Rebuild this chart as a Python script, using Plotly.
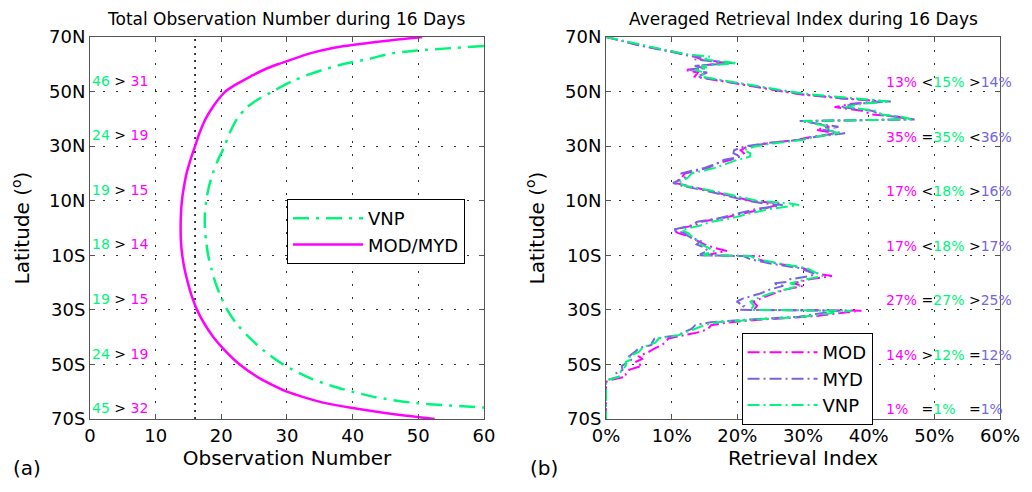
import plotly.graph_objects as go
from plotly.subplots import make_subplots

# ---- panel (a): total observation number vs latitude ----
MOD_LAT = [70, 68, 66, 64, 62, 60, 58, 56, 54, 52, 50, 47, 44, 40, 35, 30, 25, 20, 15, 10, 5, 0,
           -5, -10, -15, -20, -25, -30, -35, -40, -45, -50, -55, -58, -60, -62, -64, -66, -68, -70]
MOD_OBS = [50.6, 43.0, 37.0, 33.5, 31.0, 28.6, 26.5, 24.8, 23.3, 21.8, 20.6, 19.5, 18.6, 17.6,
           16.7, 16.0, 15.3, 14.7, 14.3, 14.0, 13.85, 13.8,
           13.85, 14.05, 14.4, 14.9, 15.5, 16.3, 17.4, 18.8, 20.6, 22.8, 25.8, 28.2, 30.0,
           32.5, 35.5, 40.0, 45.5, 52.5]

VNP_LAT = [66.7, 66, 65, 64, 62, 60, 58, 56, 54, 52, 50, 47, 44, 40, 35, 30, 25, 20, 15, 10, 5, 0,
           -5, -10, -15, -20, -25, -30, -35, -40, -45, -50, -55, -58, -60, -62, -64, -65.8]
VNP_OBS = [60.0, 55.5, 49.5, 46.0, 42.5, 38.5, 35.5, 33.0, 31.0, 29.3, 27.8, 25.5, 23.8, 22.4,
           21.3, 20.5, 19.5, 18.7, 18.1, 17.7, 17.5, 17.5,
           17.7, 18.0, 18.5, 19.1, 19.9, 20.9, 22.3, 24.2, 26.5, 29.4, 33.5, 37.0, 40.0,
           43.5, 49.0, 60.0]

THRESHOLD = 16  # black dotted reference line

BAND_LAT = [54, 34, 14, -6, -26, -46, -66]
BAND_VNP = [46, 24, 19, 18, 19, 24, 45]
BAND_MOD = [31, 19, 15, 14, 15, 19, 32]

# ---- panel (b): averaged retrieval index (%) vs latitude ----
RI_LAT = [70.0, 67.0, 64.5, 63.4, 62.8, 61.8, 61.0, 60.4, 59.4, 58.6, 57.9, 57.0, 55.5,
          53.0, 51.0, 49.0, 47.5, 46.4, 45.5, 44.3, 43.0, 41.6, 40.8, 39.8, 39.2,
          37.1, 36.0, 34.7, 33.3, 32.3, 31.0, 29.8, 28.5, 27.4, 26.1, 25.0, 23.7,
          22.0, 20.0, 18.5, 16.5, 15.5, 13.5, 11.5, 10.0, 9.0, 8.4, 7.0, 5.4, 3.5,
          2.3, 1.0, -0.7, -1.9, -3.0, -4.8, -6.0, -7.2, -8.4, -9.6, -10.0, -10.3,
          -11.5, -13.0, -14.7, -16.9, -17.6, -18.8, -19.8, -20.3, -21.2, -22.5,
          -24.0, -25.8, -27.0, -28.5, -30.0, -30.3, -31.5, -32.5, -33.5, -34.5,
          -35.6, -37.0, -38.0, -39.3, -40.5, -42.0, -42.9, -44.0, -45.4, -47.0,
          -48.0, -49.1, -50.5, -52.0, -53.4, -54.5, -55.5, -56.4, -70.0]
RI_MYD = [0, 5.0, 10.0, 12.4, 14.5, 13.5, 16.5, 19.3, 13.5, 15.0, 12.7, 15.4, 13.9,
          20.0, 25.0, 29.9, 36.0, 43.4, 38.0, 35.7, 40.5, 41.7, 44.0, 47.0, 29.5,
          35.4, 33.0, 36.4, 31.5, 29.4, 24.0, 20.9, 19.5, 19.4, 20.5, 18.0, 16.9,
          15.0, 11.4, 12.0, 10.2, 11.5, 15.5, 19.0, 21.5, 24.0, 26.9, 23.0, 20.4, 17.0,
          13.9, 13.0, 10.1, 12.0, 12.5, 14.4, 13.8, 15.0, 15.5, 14.4, 14.4, 20.9,
          22.0, 25.0, 29.4, 31.9, 31.0, 28.0, 27.5, 25.4, 27.0, 25.0,
          23.5, 20.9, 19.9, 21.0, 20.4, 35.4, 32.0, 29.4, 22.0, 16.0,
          13.6, 13.0, 12.0, 10.9, 7.4, 7.0, 6.9, 5.0, 4.4, 3.5,
          4.0, 3.4, 2.4, 2.5, 1.4, 2.0, 0.4, 0, 0]
RI_MOD = [0, 5.0, 10.5, 12.0, 13.5, 14.5, 17.0, 18.0, 14.0, 14.5, 12.0, 14.0, 13.5,
          19.5, 24.5, 29.5, 36.0, 42.0, 37.5, 34.8, 39.0, 40.5, 44.5, 46.0, 30.5,
          34.0, 32.0, 35.0, 31.0, 29.0, 24.5, 21.5, 20.5, 21.0, 20.0, 19.0, 17.0,
          15.5, 12.0, 11.5, 10.5, 12.5, 16.0, 19.5, 22.0, 26.5, 26.0, 24.0, 21.0, 17.5,
          14.5, 13.5, 10.2, 11.0, 12.5, 14.0, 15.0, 16.4, 18.4, 16.0, 15.5, 23.4,
          23.0, 26.0, 30.0, 32.5, 34.4, 31.0, 29.5, 28.5, 30.0, 27.5,
          25.5, 23.5, 22.4, 23.0, 22.5, 38.9, 34.5, 31.0, 24.0, 19.0,
          16.0, 15.5, 14.5, 12.0, 9.5, 9.0, 8.5, 7.5, 6.5, 5.0,
          5.5, 4.5, 5.5, 3.5, 3.0, 3.0, 1.0, 0, 0]
RI_VNP = [0, 5.5, 10.5, 13.0, 15.9, 15.0, 17.5, 20.0, 14.5, 15.5, 13.5, 15.0, 14.5,
          20.5, 25.5, 31.0, 37.5, 43.0, 39.0, 36.5, 41.0, 42.0, 45.0, 46.5, 30.0,
          34.0, 33.5, 35.5, 31.5, 30.0, 25.5, 22.5, 21.0, 22.0, 21.9, 20.0, 18.5,
          16.5, 13.0, 12.5, 11.0, 12.0, 16.5, 20.0, 23.0, 28.0, 29.4, 25.0, 22.0, 19.0,
          16.0, 14.5, 11.5, 12.5, 13.0, 14.0, 14.5, 15.5, 16.5, 15.0, 15.0, 22.0,
          23.0, 26.5, 30.5, 32.4, 33.0, 30.5, 29.0, 28.0, 29.5, 27.5,
          25.0, 23.0, 22.0, 22.5, 22.0, 37.4, 33.5, 30.0, 23.0, 17.0,
          15.0, 13.5, 12.5, 11.0, 8.0, 7.5, 6.5, 5.5, 5.0, 3.5,
          4.0, 3.0, 3.0, 2.5, 2.0, 2.0, 0.5, 0, 0]

BAND_PCT_MOD = [13, 35, 17, 17, 27, 14, 1]
BAND_PCT_VNP = [15, 35, 18, 18, 27, 12, 1]
BAND_PCT_MYD = [14, 36, 16, 17, 25, 12, 1]
BAND_SYM_1 = ["<", "=", "<", "<", "=", ">", "="]
BAND_SYM_2 = [">", "<", ">", ">", ">", "=", "="]

LAT_TICKS = [70, 50, 30, 10, -10, -30, -50, -70]
LAT_LABELS = ["70N", "50N", "30N", "10N", "10S", "30S", "50S", "70S"]
X_TICKS = [0, 10, 20, 30, 40, 50, 60]

MAGENTA = "#FF00FF"
GREEN = "#00F57A"
PURPLE = "#7366E0"
FONT = "DejaVu Sans"

fig = make_subplots(rows=1, cols=2)

# panel (a) curves
fig.add_trace(
    go.Scatter(x=[THRESHOLD, THRESHOLD], y=[-70, 70], mode="lines", showlegend=False,
               hoverinfo="skip", line=dict(color="black", width=1.5, dash="2px,5px")),
    row=1, col=1,
)
fig.add_trace(
    go.Scatter(x=VNP_OBS, y=VNP_LAT, mode="lines", name="VNP", legend="legend",
               line=dict(color=GREEN, width=2.5, dash="16px,7px,3px,7px"),
               line_shape="spline", line_smoothing=0.8),
    row=1, col=1,
)
fig.add_trace(
    go.Scatter(x=MOD_OBS, y=MOD_LAT, mode="lines", name="MOD/MYD", legend="legend",
               line=dict(color=MAGENTA, width=2.5),
               line_shape="spline", line_smoothing=0.8),
    row=1, col=1,
)

# panel (b) curves
for name, vals, color in [("MOD", RI_MOD, MAGENTA), ("MYD", RI_MYD, PURPLE), ("VNP", RI_VNP, GREEN)]:
    fig.add_trace(
        go.Scatter(x=vals, y=RI_LAT, mode="lines", name=name, legend="legend2",
                   line=dict(color=color, width=2, dash="12px,4px,2px,4px")),
        row=1, col=2,
    )

axis_style = dict(
    showline=True, linecolor="#555", linewidth=1, mirror="ticks",
    ticks="inside", ticklen=5, tickcolor="#555",
    showgrid=True, gridcolor="#333", gridwidth=1, griddash="2px,11px",
    zeroline=False, tickfont=dict(size=18, family=FONT, color="black"),
    title_font=dict(size=20, family=FONT, color="black"),
)

fig.update_xaxes(**axis_style, range=[0, 60], tickvals=X_TICKS, title_standoff=4)
fig.update_yaxes(**axis_style, range=[-70, 70], tickvals=LAT_TICKS, ticktext=LAT_LABELS,
                 title_text="Latitude (<sup>o</sup>)")
fig.update_xaxes(title_text="Observation Number", domain=[0, 0.4329], row=1, col=1)
fig.update_xaxes(title_text="Retrieval Index", ticktext=[f"{t}%" for t in X_TICKS],
                 domain=[0.5671, 1], row=1, col=2)

legend_style = dict(
    xanchor="left", yanchor="top", bgcolor="white", bordercolor="black", borderwidth=1,
    font=dict(size=18, family=FONT, color="black"), itemwidth=70, tracegroupgap=0,
)
# the page body adds an 8px offset, so the figure is 8px smaller on each axis
fig.update_layout(
    width=1024, height=484,
    margin=dict(l=80, r=20, t=29, b=73),
    paper_bgcolor="white", plot_bgcolor="white",
    font=dict(family=FONT, color="black"),
    legend=dict(legend_style, x=0.2165, y=0.576),
    legend2=dict(legend_style, x=0.716, y=0.225),
)

annotations = [
    dict(text="Total Observation Number during 16 Days", xref="x domain", yref="y domain",
         x=0.5, y=1.048, yanchor="middle", showarrow=False, font=dict(size=17)),
    dict(text="Averaged Retrieval Index during 16 Days", xref="x2 domain", yref="y2 domain",
         x=0.5, y=1.048, yanchor="middle", showarrow=False, font=dict(size=17)),
    dict(text="(a)", xref="paper", yref="paper", x=-0.087, y=-0.128, xanchor="left",
         yanchor="middle", showarrow=False, font=dict(size=20)),
    dict(text="(b)", xref="paper", yref="paper", x=0.4816, y=-0.128, xanchor="left",
         yanchor="middle", showarrow=False, font=dict(size=20)),
]


def span(txt, color):
    return f"<span style='color:{color}'>{txt}</span>"


def esc(sym):
    return {"<": "&lt;", ">": "&gt;"}.get(sym, sym)


for lat, v, m in zip(BAND_LAT, BAND_VNP, BAND_MOD):
    annotations.append(dict(
        text=span(v, GREEN) + " &gt; " + span(m, MAGENTA),
        xref="x", yref="y", x=0.0, y=lat, xanchor="left", yanchor="middle",
        showarrow=False, font=dict(size=14),
    ))

for lat, a, b, c, s1, s2 in zip(BAND_LAT, BAND_PCT_MOD, BAND_PCT_VNP, BAND_PCT_MYD,
                                BAND_SYM_1, BAND_SYM_2):
    pad_a = "\u00a0\u00a0" if a < 10 else ""
    pad_b = "\u00a0\u00a0" if b < 10 else ""
    text = (span(f"{a}%", MAGENTA) + pad_a + " " + esc(s1) + span(f"{b}%", GREEN)
            + pad_b + " " + esc(s2) + span(f"{c}%", PURPLE))
    annotations.append(dict(
        text=text, xref="x2", yref="y2", x=42.4, y=lat - 0.5, xanchor="left",
        yanchor="middle", showarrow=False, font=dict(size=14),
    ))

fig.update_layout(annotations=annotations)

fig.write_html("out.html")
